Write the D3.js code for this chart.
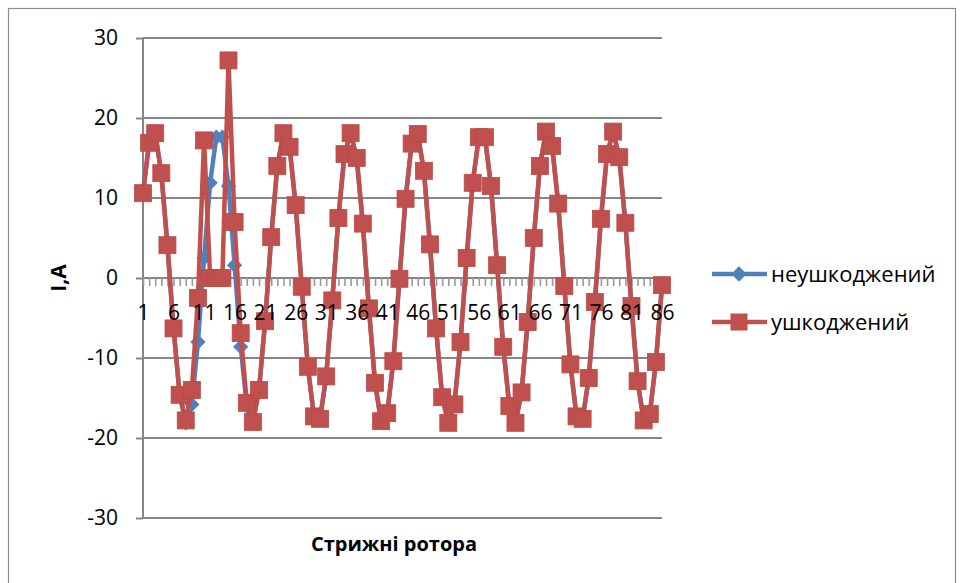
<!DOCTYPE html>
<html>
<head>
<meta charset="utf-8">
<script src="https://cdn.jsdelivr.net/npm/d3@7"></script>
<style>
    body { margin: 0; background: #fff; }
    text { font-family: "Open Sans", "Noto Sans", sans-serif; fill: #000; }
</style>
</head>
<body>
<div id="chart"></div>
<script>
// rotor bar numbers 1..86
var bars = d3.range(1, 87);

// undamaged rotor current, A
var undamaged = [10.6, 16.9, 18.1, 13.1, 4.1, -6.3, -14.6, -18.1, -15.8, -8.0,
    2.5, 11.9, 17.6, 17.6, 11.5, 1.6, -8.6, -16.0, -18.1, -14.0,
    -5.4, 5.1, 14.0, 18.1, 16.4, 9.1, -1.1, -11.1, -17.3, -17.6,
    -12.3, -2.8, 7.5, 15.5, 18.1, 15.0, 6.8, -3.8, -13.1, -17.9,
    -16.9, -10.4, -0.1, 9.9, 16.8, 18.0, 13.4, 4.2, -6.3, -14.9,
    -18.1, -15.8, -8.0, 2.5, 11.9, 17.6, 17.6, 11.5, 1.6, -8.6,
    -16.0, -18.1, -14.3, -5.5, 5.0, 14.0, 18.3, 16.5, 9.3, -1.0,
    -10.8, -17.3, -17.6, -12.5, -3.0, 7.4, 15.5, 18.3, 15.1, 6.9,
    -3.5, -12.9, -17.8, -17.0, -10.5, -0.9];

// damaged rotor current, A
var damaged = [10.6, 16.9, 18.1, 13.1, 4.1, -6.3, -14.6, -17.8, -14.0, -2.5,
    17.2, 0, 0, 0, 27.2, 7.0, -6.9, -15.6, -18.0, -14.0,
    -5.4, 5.1, 14.0, 18.1, 16.4, 9.1, -1.1, -11.1, -17.3, -17.6,
    -12.3, -2.8, 7.5, 15.5, 18.1, 15.0, 6.8, -3.8, -13.1, -17.9,
    -16.9, -10.4, -0.1, 9.9, 16.8, 18.0, 13.4, 4.2, -6.3, -14.9,
    -18.1, -15.8, -8.0, 2.5, 11.9, 17.6, 17.6, 11.5, 1.6, -8.6,
    -16.0, -18.1, -14.3, -5.5, 5.0, 14.0, 18.3, 16.5, 9.3, -1.0,
    -10.8, -17.3, -17.6, -12.5, -3.0, 7.4, 15.5, 18.3, 15.1, 6.9,
    -3.5, -12.9, -17.8, -17.0, -10.5, -0.9];

var yTicks = [-30, -20, -10, 0, 10, 20, 30];
var seriesNames = ["неушкоджений", "ушкоджений"];

function init() {
    var w = 964;
    var h = 583;
    var left = 143, right = 662, top = 38, bottom = 518;
    var blue = "#4f81bd";
    var red = "#c0504d";
    var grid = "#868686";

    var svg = d3.select("#chart")
        .append("svg")
        .attr("width", w)
        .attr("height", h);

    // chart border
    svg.append("rect")
        .attr("x", 8.5)
        .attr("y", 8.5)
        .attr("width", 947)
        .attr("height", 600)
        .attr("fill", "none")
        .attr("stroke", "#8c8c8c")
        .attr("stroke-width", 1.2);

    var xScale = d3.scalePoint()
        .domain(bars)
        .range([left, right]);

    var yScale = d3.scaleLinear()
        .domain([-30, 30])
        .range([bottom, top]);

    // horizontal gridlines
    svg.append("g")
        .selectAll("line")
        .data(yTicks)
        .enter()
        .append("line")
        .attr("x1", left)
        .attr("x2", right)
        .attr("y1", function(d) { return yScale(d); })
        .attr("y2", function(d) { return yScale(d); })
        .attr("stroke", grid)
        .attr("stroke-width", 2);

    var yAxis = d3.axisLeft(yScale)
        .tickValues(yTicks)
        .tickSize(7)
        .tickPadding(18)
        .tickFormat(function(d) { return String(d); });

    var gy = svg.append("g")
        .attr("transform", "translate(" + left + ",0)")
        .call(yAxis);
    gy.selectAll("path, line").attr("stroke", grid).attr("stroke-width", 2);
    gy.select(".domain").attr("d", "M0," + top + "V" + bottom);
    gy.selectAll("text")
        .style("font-size", "21px")
        .style("font-family", "'Open Sans', sans-serif")
        .attr("fill", "#000");

    // x axis line and ticks (under the series)
    var xAxis = d3.axisBottom(xScale)
        .tickSize(8)
        .tickFormat("");

    var gx = svg.append("g")
        .attr("transform", "translate(0," + yScale(0) + ")")
        .call(xAxis);
    gx.selectAll("path, line").attr("stroke", "#999").attr("stroke-width", 1.6);
    gx.select(".domain").attr("stroke", grid).attr("stroke-width", 2)
        .attr("d", "M" + left + ",0H" + right);

    // axis titles
    svg.append("text")
        .attr("transform", "translate(66," + yScale(0) + ") rotate(-90)")
        .attr("text-anchor", "middle")
        .style("font-size", "21px")
        .style("font-weight", "bold")
        .text("I,A");

    svg.append("text")
        .attr("x", 394)
        .attr("y", 551)
        .attr("text-anchor", "middle")
        .style("font-size", "20px")
        .style("font-weight", "bold")
        .text("Стрижні ротора");

    var line = d3.line()
        .x(function(d, i) { return xScale(bars[i]); })
        .y(function(d) { return yScale(d); });

    var diamond = d3.symbol().type(d3.symbolDiamond2).size(150);

    // undamaged series
    svg.append("path")
        .datum(undamaged)
        .attr("d", line)
        .attr("fill", "none")
        .attr("stroke", blue)
        .attr("stroke-width", 4.5)
        .attr("stroke-linejoin", "round");

    svg.append("g")
        .selectAll("path")
        .data(undamaged)
        .enter()
        .append("path")
        .attr("d", diamond)
        .attr("transform", function(d, i) {
            return "translate(" + xScale(bars[i]) + "," + yScale(d) + ")";
        })
        .attr("fill", blue);

    // damaged series
    svg.append("path")
        .datum(damaged)
        .attr("d", line)
        .attr("fill", "none")
        .attr("stroke", red)
        .attr("stroke-width", 4.5)
        .attr("stroke-linejoin", "round");

    var sq = 17;
    svg.append("g")
        .selectAll("rect")
        .data(damaged)
        .enter()
        .append("rect")
        .attr("x", function(d, i) { return xScale(bars[i]) - sq / 2; })
        .attr("y", function(d) { return yScale(d) - sq / 2; })
        .attr("width", sq)
        .attr("height", sq)
        .attr("fill", red)
        .attr("stroke", "#b94a47")
        .attr("stroke-width", 0.8);

    // x tick labels on top of the series
    var xLabels = d3.axisBottom(xScale)
        .tickSize(0)
        .tickPadding(27)
        .tickFormat(function(d) { return (d - 1) % 5 === 0 ? d : ""; });

    var gl = svg.append("g")
        .attr("transform", "translate(0," + yScale(0) + ")")
        .call(xLabels);
    gl.select(".domain").remove();
    gl.selectAll("line").remove();
    gl.selectAll("text")
        .style("font-size", "21px")
        .style("font-family", "'Open Sans', sans-serif")
        .attr("fill", "#000");

    // legend
    var legend = svg.append("g");
    var ly = [274, 322];
    var colors = [blue, red];
    seriesNames.forEach(function(name, i) {
        legend.append("line")
            .attr("x1", 712)
            .attr("x2", 767)
            .attr("y1", ly[i])
            .attr("y2", ly[i])
            .attr("stroke", colors[i])
            .attr("stroke-width", 4.5);
        if (i === 0) {
            legend.append("path")
                .attr("d", diamond)
                .attr("transform", "translate(739," + ly[i] + ")")
                .attr("fill", blue);
        } else {
            legend.append("rect")
                .attr("x", 739 - sq / 2)
                .attr("y", ly[i] - sq / 2)
                .attr("width", sq)
                .attr("height", sq)
                .attr("fill", red);
        }
        legend.append("text")
            .attr("x", 771)
            .attr("y", ly[i])
            .attr("dy", "0.35em")
            .style("font-size", "22px")
            .text(name);
    });
}

window.onload = init;
</script>
</body>
</html>
